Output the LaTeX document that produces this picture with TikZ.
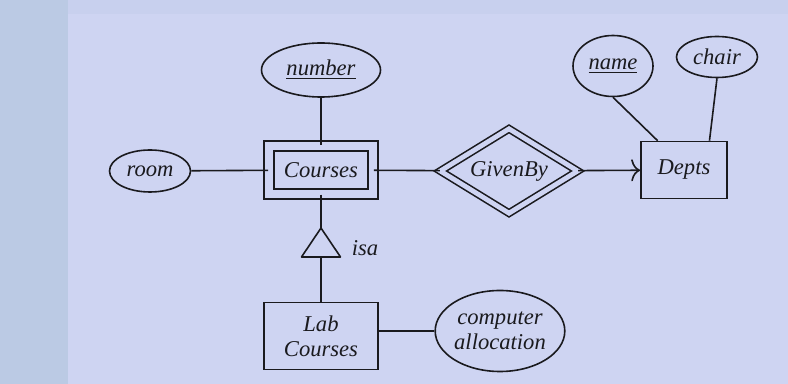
\documentclass[tikz,border=0pt]{standalone}
\usepackage{fontspec}
\setmainfont{Liberation Serif}
\usetikzlibrary{shapes.geometric,arrows.meta}
\definecolor{paper}{HTML}{CED4F2}
\definecolor{margin}{HTML}{BBCAE4}
\definecolor{topband}{HTML}{C8D0EE}
\definecolor{ink}{HTML}{1A1A1E}
\begin{document}
\begin{tikzpicture}[x=0.5pt,y=-0.5pt,
        every node/.style={font=\fontsize{11.3}{12.5}\selectfont\itshape,text=ink,inner sep=0pt,align=center},
        every path/.style={line width=0.8pt},
        entity/.style={draw=ink,rectangle},
        weakentity/.style={draw=ink,rectangle,double=paper,double distance=4.2pt},
        attr/.style={draw=ink,ellipse},
        weakrel/.style={draw=ink,diamond,aspect=1.6,double=paper,double distance=2.4pt}]
        \fill[paper] (0,0) rectangle (788,384);
        \fill[margin] (0,0) rectangle (68,384);
        \fill[topband] (68,0) rectangle (788,14);
        \useasboundingbox (0,0) rectangle (788,384);

        \node[weakentity,minimum width=52pt,minimum height=23.8pt] (courses) at (321,170) {Courses};
        \node[attr,minimum width=59.5pt,minimum height=27pt] (number) at (321,70) {\underline{number}};
        \node[attr,minimum width=40.5pt,minimum height=21pt] (room) at (150,171) {room};
        \node[weakrel,minimum width=69pt,minimum height=42.5pt] (givenby) at (509,171) {GivenBy};
        \node[entity,minimum width=43pt,minimum height=28.5pt] (depts) at (684,170) {Depts};
        \node[attr,minimum width=40pt,minimum height=30.5pt] (name) at (613,66) {\underline{name}};
        \node[attr,minimum width=40.5pt,minimum height=20.5pt] (chair) at (717,57) {chair};
        \node[entity,minimum width=57pt,minimum height=33.5pt] (lab) at (321,336) {Lab\\Courses};
        \node[attr,minimum width=58.5pt,minimum height=40.5pt] (alloc) at (500,331) {computer\\allocation};

        \coordinate (isa top) at (321,228);
        \coordinate (isa base) at (321,257);
        \draw[ink,line join=round] (isa top) -- ++(19.5,29) -- ++(-39,0) -- cycle;
        \node (isa) at (365,248) {isa};

        \draw[ink] (number) -- (courses);
        \draw[ink] (room) -- (courses);
        \draw[ink] (courses) -- (givenby);
        \draw[ink,-{To[length=4.5pt,width=11pt]}] (givenby) -- (depts);
        \draw[ink] (name.south) -- (depts.132);
        \draw[ink] (chair.south) -- (depts.49);
        \draw[ink] (courses) -- (isa top);
        \draw[ink] (isa base) -- (lab);
        \draw[ink] (alloc.west -| lab.east) -- (alloc.west);
\end{tikzpicture}
\end{document}
